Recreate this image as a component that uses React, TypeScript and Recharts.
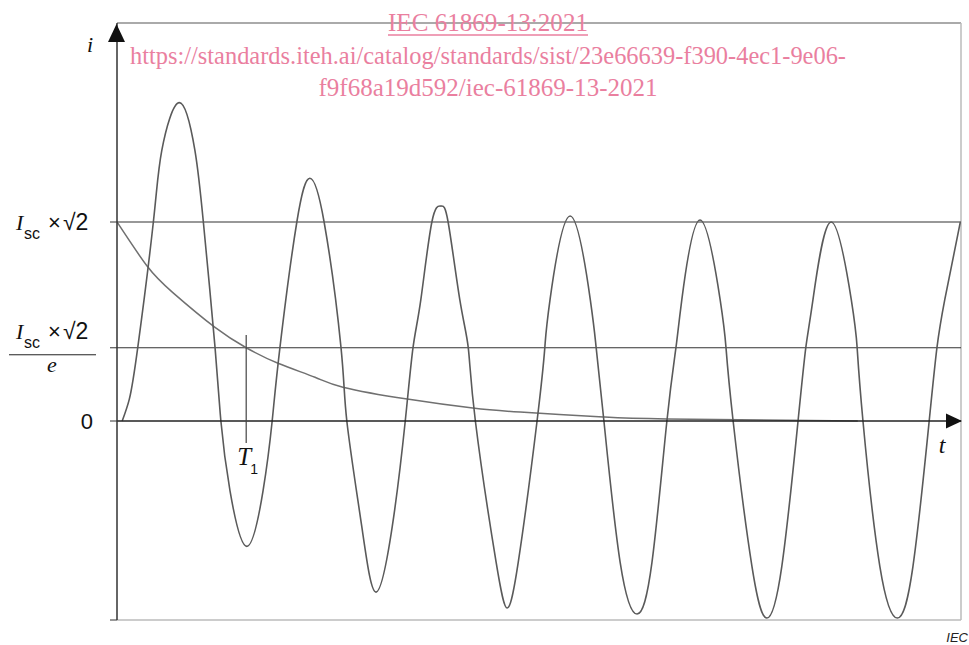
import { LineChart, Line, XAxis, YAxis, ReferenceLine, ReferenceDot } from "recharts";

// time in ms (20 ms period), current in units of Isc x sqrt(2)
const waveTime = [
  0.8, 1.9, 3.2, 5.6, 6.9, 9.6, 12.0, 13.3, 15.1, 16.0, 17.4, 20.0, 22.5, 23.9, 25.1, 27.7, 29.7,
  31.9, 34.5, 35.4, 37.7, 39.9, 42.4, 44.4, 45.6, 46.8, 48.5, 49.9, 51.0, 52.8, 54.1, 55.2, 58.4,
  60.1, 61.8, 64.7, 65.9, 66.7, 69.8, 72.9, 73.8, 75.0, 77.5, 80.1, 82.4, 84.7, 86.1, 87.0, 89.8,
  92.9, 93.8, 94.9, 97.8, 100.1, 102.4, 104.9, 106.1, 107.2, 110.0, 113.1, 114.0, 114.9, 117.5,
  120.2, 122.6, 125.1, 126.3, 127.5, 129.9,
];
const waveCurrent = [
  0, 0.11, 0.37, 1.0, 1.36, 1.6, 1.36, 1.0, 0.37, 0, -0.35, -0.63, -0.35, 0, 0.37, 1.0, 1.22,
  1.0, 0.37, 0, -0.53, -0.86, -0.53, 0, 0.37, 0.61, 1.0, 1.08, 1.0, 0.61, 0.37, 0, -0.71,
  -0.94, -0.71, 0, 0.37, 0.61, 1.03, 0.61, 0.37, 0, -0.71, -0.97, -0.71, 0, 0.37, 0.61, 1.01,
  0.61, 0.37, 0, -0.73, -0.99, -0.73, 0, 0.37, 0.61, 1.0, 0.61, 0.37, 0, -0.73,
  -0.99, -0.73, 0, 0.37, 0.61, 1.0,
];

const decayTime = [0, 4.6, 8.6, 15.1, 19.9, 24.8, 30.5, 34.8, 44.7, 54.8, 62.1, 74.9, 84.7, 114.1];
const decayCurrent = [1.0, 0.78, 0.645, 0.47, 0.368, 0.29, 0.22, 0.17, 0.11, 0.065, 0.045, 0.02, 0.01, 0];

const yTicks = [-1, 0, 0.368, 1];
const T1 = 19.9;

const watermark = [
  "IEC 61869-13:2021",
  "https://standards.iteh.ai/catalog/standards/sist/23e66639-f390-4ec1-9e06-",
  "f9f68a19d592/iec-61869-13-2021",
];

const waveData = waveTime.map((t, i) => ({ t, i: waveCurrent[i] }));
const decayData = decayTime.map((t, i) => ({ t, i: decayCurrent[i] }));

const SERIF = "'Liberation Serif', 'Times New Roman', serif";
const SANS = "'Liberation Sans', Arial, sans-serif";
const PINK = "#ea7f9f";

function CurrentTick({ y, payload }: any) {
  const v = payload.value;
  if (v === 0) {
    return (
      <text x={93} y={y + 8} textAnchor="end" fontFamily={SANS} fontSize={22} fill="#111">
        0
      </text>
    );
  }
  if (v === 1 || v === 0.368) {
    const base = v === 1 ? y + 8 : y - 9;
    return (
      <g>
        <text fontSize={22} fill="#111">
          <tspan x={16} y={base} fontFamily={SERIF} fontStyle="italic">I</tspan>
          <tspan x={24} y={base + 9} fontFamily={SANS} fontSize={16}>sc</tspan>
          <tspan x={48} y={base} fontFamily={SANS}>×</tspan>
          <tspan x={63} y={base} fontFamily={SANS} fontSize={23}>√2</tspan>
        </text>
        {v !== 1 && (
          <g>
            <line x1={9} x2={96} y1={y + 7} y2={y + 7} stroke="#222" strokeWidth={1} />
            <text x={52} y={y + 24} textAnchor="middle" fontFamily={SERIF} fontStyle="italic" fontSize={22} fill="#111">
              e
            </text>
          </g>
        )}
      </g>
    );
  }
  return <g />;
}

export default function App() {
  return (
    <div style={{ position: "absolute", left: 0, top: 0, width: 969, height: 645, background: "#fff" }}>
      <LineChart width={969} height={645} margin={{ top: 23, right: 8, bottom: 25, left: 0 }}>
        <XAxis dataKey="t" type="number" domain={[0, 130]} hide allowDataOverflow />
        <YAxis
          type="number"
          domain={[-1, 2]}
          ticks={yTicks}
          interval={0}
          width={117}
          tickSize={7}
          axisLine={{ stroke: "#333", strokeWidth: 1.5 }}
          tickLine={{ stroke: "#333" }}
          tick={<CurrentTick />}
          allowDataOverflow
        />
        <ReferenceLine y={2} stroke="#aaa" strokeWidth={2} />
        <ReferenceLine x={130} stroke="#bbb" strokeWidth={1.5} />
        <ReferenceLine y={-1} stroke="#bbb" strokeWidth={1.5} />
        <ReferenceLine y={1} stroke="#333" strokeWidth={1.2} />
        <ReferenceLine y={0.368} stroke="#333" strokeWidth={1.2} />
        <Line
          data={decayData}
          dataKey="i"
          type="natural"
          stroke="#707070"
          strokeWidth={1.5}
          dot={false}
          activeDot={false}
          isAnimationActive={false}
        />
        <Line
          data={waveData}
          dataKey="i"
          type="natural"
          stroke="#5a5a5a"
          strokeWidth={1.6}
          dot={false}
          activeDot={false}
          isAnimationActive={false}
        />
        <ReferenceLine y={0} stroke="#222" strokeWidth={1.5} />
        <ReferenceLine
          segment={[
            { x: T1, y: 0.432 },
            { x: T1, y: -0.111 },
          ]}
          stroke="#444"
          strokeWidth={1.2}
        />
        <ReferenceDot
          x={T1}
          y={-0.111}
          ifOverflow="visible"
          shape={(p: any) => (
            <text fill="#111">
              <tspan x={p.cx - 9} y={p.cy + 22} fontFamily={SERIF} fontStyle="italic" fontSize={25}>T</tspan>
              <tspan x={p.cx + 4} y={p.cy + 31} fontFamily={SANS} fontSize={14}>1</tspan>
            </text>
          )}
        />
        <ReferenceDot
          x={0}
          y={2}
          ifOverflow="visible"
          shape={(p: any) => (
            <g>
              <polygon
                points={`${p.cx - 0.5},${p.cy + 1} ${p.cx - 9},${p.cy + 19} ${p.cx + 8},${p.cy + 19}`}
                fill="#111"
              />
              <text x={p.cx - 27} y={p.cy + 29} textAnchor="middle" fontFamily={SERIF} fontStyle="italic" fontSize={22} fill="#111">
                i
              </text>
            </g>
          )}
        />
        <ReferenceDot
          x={130}
          y={0}
          ifOverflow="visible"
          shape={(p: any) => (
            <g>
              <polygon
                points={`${p.cx + 1},${p.cy} ${p.cx - 15},${p.cy - 7.5} ${p.cx - 15},${p.cy + 7.5}`}
                fill="#111"
              />
              <text x={p.cx - 19} y={p.cy + 32} textAnchor="middle" fontFamily={SERIF} fontStyle="italic" fontSize={24} fill="#111">
                t
              </text>
            </g>
          )}
        />
      </LineChart>
      <svg
        width={969}
        height={645}
        style={{ position: "absolute", left: 0, top: 0, pointerEvents: "none" }}
      >
        <text x={488} y={31} textAnchor="middle" fontFamily={SERIF} fontSize={25} fill={PINK} textLength={200} lengthAdjust="spacingAndGlyphs">
          {watermark[0]}
        </text>
        <line x1={388} x2={588} y1={35} y2={35} stroke={PINK} strokeWidth={1.5} />
        <text x={488} y={64} textAnchor="middle" fontFamily={SERIF} fontSize={25} fill={PINK} textLength={716} lengthAdjust="spacingAndGlyphs">
          {watermark[1]}
        </text>
        <text x={488} y={96} textAnchor="middle" fontFamily={SERIF} fontSize={25} fill={PINK} textLength={339} lengthAdjust="spacingAndGlyphs">
          {watermark[2]}
        </text>
        <text x={968} y={642} textAnchor="end" fontFamily={SANS} fontStyle="italic" fontSize={13} fill="#222">
          IEC
        </text>
      </svg>
    </div>
  );
}
